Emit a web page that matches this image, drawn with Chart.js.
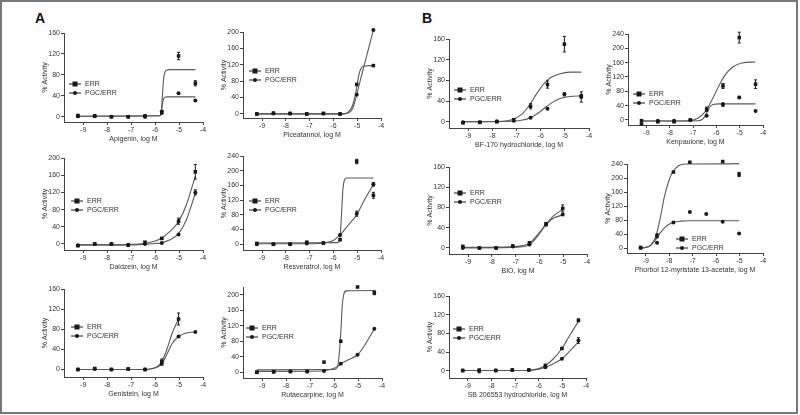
<!DOCTYPE html>
<html>
<head>
<meta charset="utf-8">
<script src="https://cdn.jsdelivr.net/npm/chart.js@4.4.1/dist/chart.umd.min.js"></script>
<style>
  html, body { margin: 0; padding: 0; background: #fff; }
  #fig { position: relative; width: 800px; height: 415px; overflow: hidden; font-family: "Liberation Sans", Arial, sans-serif; }
  #frame { position: absolute; left: 0; top: 0; width: 794px; height: 410px; border: 2px solid #777; }
  #fig canvas { position: absolute; }
  .tag { position: absolute; font: bold 14px "Liberation Sans", Arial, sans-serif; line-height: 1; color: #111; }
</style>
</head>
<body>
<div id="fig">
  <div id="frame"></div>
  <div class="tag" style="left:35px; top:11px">A</div>
  <div class="tag" style="left:422px; top:11px">B</div>
</div>
<script>
// log concentrations used for every compound
const logConc = [-9.22, -8.52, -7.82, -7.12, -6.42, -5.72, -5.02, -4.32];
const xTicks = [-9, -8, -7, -6, -5, -4];
const ticks160 = [0, 20, 40, 60, 80, 100, 120, 140, 160];
const ticks200 = [0, 20, 40, 60, 80, 100, 120, 140, 160, 180, 200];
const ticks220 = [0, 20, 40, 60, 80, 100, 120, 140, 160, 180, 200, 220];
const ticks240 = [0, 20, 40, 60, 80, 100, 120, 140, 160, 180, 200, 220, 240];

// Apigenin
const apigErr = [2, 2, 0, 0, 1, 8, 116, 64];
const apigErrSd = [3, 2, 1, 1, 3, 3, 7, 5];
const apigPgc = [1, 1, 0, 0, 0, 10, 45, 31];
const apigFitErr = [[-9.22, 1], [-5.8, 2], [-5.74, 8], [-5.7, 35], [-5.66, 65], [-5.6, 84], [-5.52, 89], [-5.4, 90], [-4.32, 90]];
const apigFitPgc = [[-9.22, 1], [-5.8, 2], [-5.74, 8], [-5.7, 22], [-5.66, 32], [-5.6, 37], [-5.5, 38], [-4.32, 38]];

// Piceatannol
const piceErr = [0, 2, 1, 0, 1, 0, 72, 118];
const picePgc = [0, 1, 1, 0, 1, 0, 47, 205];
const piceFitErr = [[-9.22, 0], [-5.6, 0], [-5.4, 3], [-5.2, 20], [-5.05, 55], [-4.95, 90], [-4.85, 110], [-4.7, 117], [-4.5, 118], [-4.32, 118]];
const piceFitPgc = [[-9.22, 0], [-5.6, 0], [-5.4, 2], [-5.2, 12], [-5.05, 40], [-4.9, 75], [-4.7, 120], [-4.5, 165], [-4.32, 205]];

// Daidzein
const daidErr = [-4, 0, 0, -3, 4, 13, 53, 168];
const daidErrSd = [2, 1, 1, 2, 2, 2, 7, 17];
const daidPgc = [-3, 0, 0, -2, 0, 2, 22, 120];
const daidPgcSd = [0, 0, 0, 0, 0, 0, 2, 6];
const daidFitErr = [[-9.22, -2], [-7.5, -2], [-7, -1], [-6.5, 1], [-6.0, 7], [-5.72, 14], [-5.4, 28], [-5.02, 52], [-4.7, 90], [-4.32, 158]];
const daidFitPgc = [[-9.22, -2], [-7, -2], [-6.5, -1], [-6.0, 1], [-5.72, 3], [-5.4, 9], [-5.02, 24], [-4.7, 55], [-4.32, 118]];

// Resveratrol
const resvErr = [2, 0, 0, 5, 3, 12, 225, 133];
const resvErrSd = [2, 1, 1, 3, 1, 2, 6, 8];
const resvPgc = [0, 0, 0, 2, 3, 25, 83, 163];
const resvPgcSd = [0, 0, 0, 0, 0, 2, 7, 5];
const resvFitErr = [[-9.22, 3], [-5.85, 4], [-5.78, 5], [-5.72, 20], [-5.66, 80], [-5.6, 150], [-5.54, 174], [-5.45, 180], [-4.32, 180]];
const resvFitPgc = [[-9.22, 1], [-7, 1], [-6.42, 3], [-6.0, 10], [-5.72, 25], [-5.4, 50], [-5.02, 80], [-4.7, 120], [-4.32, 162]];

// Genistein
const geniErr = [-1, 1, -1, 0, -1, 15, 100, null];
const geniErrSd = [1, 2, 1, 1, 1, 5, 12, 0];
const geniPgc = [-1, 0, -1, 0, -1, 10, 65, 74];
const geniFitErr = [[-9.22, -1], [-6.4, -1], [-6.1, 1], [-5.9, 5], [-5.72, 15], [-5.5, 40], [-5.3, 70], [-5.02, 100]];
const geniFitPgc = [[-9.22, -1], [-6.4, -1], [-6.1, 1], [-5.9, 4], [-5.72, 10], [-5.5, 30], [-5.3, 50], [-5.02, 65], [-4.7, 72], [-4.32, 74]];

// Rutaecarpine
const rutaErr = [0, 1, 2, 2, 26, 80, 220, 205];
const rutaErrSd = [0, 0, 0, 0, 0, 0, 0, 5];
const rutaPgc = [0, 1, 2, 2, 3, 22, 45, 112];
const rutaFitErr = [[-9.22, 6], [-6.0, 7], [-5.85, 15], [-5.78, 50], [-5.72, 100], [-5.66, 170], [-5.6, 200], [-5.5, 210], [-4.32, 211]];
const rutaFitPgc = [[-9.22, 2], [-6.5, 3], [-6.1, 8], [-5.85, 15], [-5.72, 22], [-5.4, 32], [-5.02, 45], [-4.7, 72], [-4.32, 112]];

// BF-170 hydrochloride
const bf170Err = [-2, -1, 0, 4, 30, 72, 150, 48];
const bf170ErrSd = [1, 1, 1, 2, 5, 7, 15, 10];
const bf170Pgc = [-1, -1, 1, 2, 8, 25, 53, 50];
const bf170PgcSd = [0, 0, 0, 0, 0, 0, 3, 3];
const bf170FitErr = [[-9.22, 0], [-7.6, 1], [-7.2, 4], [-6.8, 14], [-6.5, 30], [-6.2, 52], [-5.9, 72], [-5.6, 85], [-5.2, 93], [-4.8, 96], [-4.32, 96]];
const bf170FitPgc = [[-9.22, 0], [-7.2, 1], [-6.8, 3], [-6.42, 8], [-6.1, 17], [-5.8, 28], [-5.5, 38], [-5.2, 45], [-4.8, 49], [-4.32, 50]];

// Kenpaulone
const kenpErr = [-2, -5, -5, 0, 30, 95, 230, 100];
const kenpErrSd = [1, 1, 1, 1, 6, 7, 15, 12];
const kenpPgc = [-11, -2, -2, 0, 12, 43, 63, 25];
const kenpPgcSd = [0, 0, 0, 0, 0, 5, 3, 0];
const kenpFitErr = [[-9.22, -3], [-7.2, -2], [-6.8, 5], [-6.5, 22], [-6.2, 55], [-5.9, 95], [-5.6, 128], [-5.3, 148], [-4.9, 159], [-4.32, 162]];
const kenpFitPgc = [[-9.22, -3], [-6.8, -2], [-6.6, 2], [-6.45, 15], [-6.3, 35], [-6.15, 43], [-5.9, 45], [-4.32, 45]];

// BIO
const bioErr = [3, 0, 0, 4, 10, 48, 78, null];
const bioErrSd = [2, 0, 0, 0, 2, 2, 7, 0];
const bioPgc = [0, 0, 0, 3, 7, 46, 66, null];
const bioFitErr = [[-9.22, 1], [-7.2, 2], [-6.8, 4], [-6.42, 9], [-6.1, 25], [-5.72, 47], [-5.4, 64], [-5.02, 76]];
const bioFitPgc = [[-9.22, 0], [-7.2, 1], [-6.8, 2], [-6.42, 6], [-6.1, 22], [-5.72, 46], [-5.4, 59], [-5.02, 65]];

// Phorbol 12-myristate 13-acetate
const pmaErr = [2, 35, 217, 245, null, 247, 210, null];
const pmaErrSd = [2, 6, 0, 0, 0, 3, 6, 0];
const pmaPgc = [0, 15, 73, 103, 97, 75, 42, null];
const pmaFitErr = [[-9.22, 0], [-9.0, 2], [-8.8, 8], [-8.57, 33], [-8.4, 80], [-8.2, 148], [-8.0, 195], [-7.85, 217], [-7.6, 235], [-7.3, 240], [-5.02, 241]];
const pmaFitPgc = [[-9.22, 0], [-9.0, 2], [-8.8, 7], [-8.57, 25], [-8.4, 42], [-8.2, 58], [-8.0, 68], [-7.85, 73], [-7.5, 77], [-7.2, 78], [-5.02, 78]];

// SB 206553 hydrochloride
const sbErr = [1, 2, 1, 2, 2, 12, 48, 108];
const sbErrSd = [0, 1, 0, 0, 0, 2, 2, 3];
const sbPgc = [1, -1, 1, 2, 2, 8, 26, 65];
const sbPgcSd = [0, 0, 0, 0, 0, 0, 0, 6];
const sbFitErr = [[-9.22, 1], [-6.5, 1], [-6.2, 3], [-6.0, 5], [-5.72, 12], [-5.4, 25], [-5.02, 48], [-4.7, 75], [-4.32, 106]];
const sbFitPgc = [[-9.22, 1], [-6.5, 1], [-6.2, 2], [-6.0, 4], [-5.72, 8], [-5.4, 15], [-5.02, 26], [-4.7, 42], [-4.32, 62]];

// panel layout: chart area box in page pixels (left, top, right, bottom), y range and legend offset
const panels = [
  { title: "Apigenin, log M", box: [64, 33, 203, 122], yMin: -10, yMax: 160, yTicks: ticks160, leg: [11, 51],
    err: apigErr, errSd: apigErrSd, pgc: apigPgc, pgcSd: null, fitErr: apigFitErr, fitPgc: apigFitPgc },
  { title: "Piceatannol, log M", box: [243, 32, 381, 118], yMin: -10, yMax: 200, yTicks: ticks200, leg: [12, 39],
    err: piceErr, errSd: null, pgc: picePgc, pgcSd: null, fitErr: piceFitErr, fitPgc: piceFitPgc },
  { title: "Daidzein, log M", box: [64, 158, 203, 250], yMin: -14, yMax: 200, yTicks: ticks200, leg: [13, 43],
    err: daidErr, errSd: daidErrSd, pgc: daidPgc, pgcSd: daidPgcSd, fitErr: daidFitErr, fitPgc: daidFitPgc },
  { title: "Resveratrol, log M", box: [243, 156, 381, 250], yMin: -16, yMax: 240, yTicks: ticks240, leg: [12, 45],
    err: resvErr, errSd: resvErrSd, pgc: resvPgc, pgcSd: resvPgcSd, fitErr: resvFitErr, fitPgc: resvFitPgc },
  { title: "Genistein, log M", box: [64, 289, 203, 377], yMin: -16, yMax: 160, yTicks: ticks160, leg: [13, 38],
    err: geniErr, errSd: geniErrSd, pgc: geniPgc, pgcSd: null, fitErr: geniFitErr, fitPgc: geniFitPgc },
  { title: "Rutaecarpine, log M", box: [243, 287, 382, 378], yMin: -15, yMax: 220, yTicks: ticks220, leg: [9, 41],
    err: rutaErr, errSd: rutaErrSd, pgc: rutaPgc, pgcSd: null, fitErr: rutaFitErr, fitPgc: rutaFitPgc },
  { title: "BF-170 hydrochloride, log M", box: [449, 39, 589, 128], yMin: -12, yMax: 160, yTicks: ticks160, leg: [11, 51],
    err: bf170Err, errSd: bf170ErrSd, pgc: bf170Pgc, pgcSd: bf170PgcSd, fitErr: bf170FitErr, fitPgc: bf170FitPgc },
  { title: "Kenpaulone, log M", box: [628, 34, 763, 125], yMin: -14, yMax: 240, yTicks: ticks240, leg: [11, 60],
    err: kenpErr, errSd: kenpErrSd, pgc: kenpPgc, pgcSd: kenpPgcSd, fitErr: kenpFitErr, fitPgc: kenpFitPgc },
  { title: "BIO, log M", box: [449, 167, 587, 254], yMin: -12, yMax: 160, yTicks: ticks160, leg: [11, 26],
    err: bioErr, errSd: bioErrSd, pgc: bioPgc, pgcSd: null, fitErr: bioFitErr, fitPgc: bioFitPgc },
  { title: "Phorbol 12-myristate 13-acetate, log M", box: [627, 164, 763, 253], yMin: -14, yMax: 240, yTicks: ticks240, leg: [55, 75],
    err: pmaErr, errSd: pmaErrSd, pgc: pmaPgc, pgcSd: null, fitErr: pmaFitErr, fitPgc: pmaFitPgc },
  { title: "SB 206553 hydrochloride, log M", box: [449, 296, 586, 378], yMin: -15, yMax: 160, yTicks: ticks160, leg: [10, 33],
    err: sbErr, errSd: sbErrSd, pgc: sbPgc, pgcSd: sbPgcSd, fitErr: sbFitErr, fitPgc: sbFitPgc }
];

const ink = "#1a1a1a";
const curveColor = "#5a5a5a";
const textColor = "#333";
const FONT = "'Liberation Sans', Arial, sans-serif";

Chart.defaults.font.family = FONT;
Chart.defaults.font.size = 7;
Chart.defaults.color = textColor;

function toPoints(vals, sd) {
  const out = [];
  vals.forEach((v, i) => {
    if (v === null) return;
    out.push({ x: logConc[i], y: v, e: sd ? sd[i] : 0 });
  });
  return out;
}

// vertical error bars with caps, from each point's e value
const errorBars = {
  id: "errorBars",
  afterDatasetsDraw(chart) {
    const ctx = chart.ctx;
    const ys = chart.scales.y;
    ctx.save();
    ctx.strokeStyle = ink;
    ctx.lineWidth = 1;
    chart.data.datasets.forEach((ds, di) => {
      if (!ds.bars) return;
      const meta = chart.getDatasetMeta(di);
      ds.data.forEach((p, i) => {
        if (!p.e) return;
        const px = meta.data[i].x;
        const y1 = ys.getPixelForValue(p.y - p.e);
        const y2 = ys.getPixelForValue(p.y + p.e);
        ctx.beginPath();
        ctx.moveTo(px, y1); ctx.lineTo(px, y2);
        ctx.moveTo(px - 1.5, y1); ctx.lineTo(px + 1.5, y1);
        ctx.moveTo(px - 1.5, y2); ctx.lineTo(px + 1.5, y2);
        ctx.stroke();
      });
    });
    ctx.restore();
  }
};

// small in-plot legend: line + marker + label
const pairLegend = {
  id: "pairLegend",
  afterDraw(chart, args, opts) {
    const ctx = chart.ctx;
    const a = chart.chartArea;
    const x0 = a.left + opts.x;
    const entries = [["ERR", "rect"], ["PGC/ERR", "circle"]];
    ctx.save();
    entries.forEach((en, i) => {
      const y = a.top + opts.y + i * 9;
      ctx.strokeStyle = ink;
      ctx.fillStyle = ink;
      ctx.lineWidth = 1;
      ctx.beginPath();
      ctx.moveTo(x0 - 6, y); ctx.lineTo(x0 + 6, y);
      ctx.stroke();
      if (en[1] === "rect") ctx.fillRect(x0 - 2.5, y - 2.5, 5, 5);
      else { ctx.beginPath(); ctx.arc(x0, y, 2, 0, Math.PI * 2); ctx.fill(); }
      ctx.fillStyle = textColor;
      ctx.font = "7px " + FONT;
      ctx.textBaseline = "middle";
      ctx.fillText(en[0], x0 + 10, y + 0.5);
    });
    ctx.restore();
  }
};

const fig = document.getElementById("fig");
const Y_W = 23, X_H = 21, PAD_T = 6, PAD_R = 10;

panels.forEach(p => {
  const [l, t, r, b] = p.box;
  const cv = document.createElement("canvas");
  const left = l - Y_W, top = t - PAD_T;
  const w = r + PAD_R - left, h = b + X_H - top;
  cv.width = w; cv.height = h;
  cv.style.left = left + "px"; cv.style.top = top + "px";
  cv.style.width = w + "px"; cv.style.height = h + "px";
  fig.appendChild(cv);

  const fit = pts => pts.map(q => ({ x: q[0], y: q[1] }));

  new Chart(cv, {
    type: "scatter",
    data: {
      datasets: [
        { data: toPoints(p.err, p.errSd), bars: true, clip: false, pointStyle: "rect", pointRadius: 2.5, backgroundColor: ink, borderColor: ink, borderWidth: 0 },
        { data: toPoints(p.pgc, p.pgcSd), bars: true, clip: false, pointStyle: "circle", pointRadius: 2, backgroundColor: ink, borderColor: ink, borderWidth: 0 },
        { data: fit(p.fitErr), clip: false, showLine: true, pointRadius: 0, borderColor: curveColor, borderWidth: 1.1, cubicInterpolationMode: "monotone" },
        { data: fit(p.fitPgc), clip: false, showLine: true, pointRadius: 0, borderColor: curveColor, borderWidth: 1.1, cubicInterpolationMode: "monotone" }
      ]
    },
    options: {
      responsive: false,
      animation: false,
      events: [],
      layout: { padding: { left: 0, top: PAD_T, right: PAD_R, bottom: 0 } },
      plugins: {
        legend: { display: false },
        tooltip: { enabled: false },
        pairLegend: { x: p.leg[0], y: p.leg[1] }
      },
      scales: {
        x: {
          type: "linear", min: -9.8, max: -4,
          grid: { drawOnChartArea: false, tickLength: 3, color: "#444" },
          border: { color: "#444", width: 1 },
          ticks: { padding: 1, color: textColor, font: { size: 7 }, callback: v => String(v) },
          afterBuildTicks: s => { s.ticks = xTicks.map(v => ({ value: v })); },
          afterFit: s => { s.height = X_H; },
          title: { display: true, text: p.title, padding: 0, color: textColor, font: { size: 7 } }
        },
        y: {
          min: p.yMin, max: p.yMax,
          grid: { drawOnChartArea: false, tickLength: 3, color: "#444" },
          border: { color: "#444", width: 1 },
          ticks: { padding: 1, color: textColor, font: { size: 7 }, callback: v => String(v) },
          afterBuildTicks: s => { s.ticks = p.yTicks.map(v => ({ value: v })); },
          afterFit: s => { s.width = Y_W; },
          title: { display: true, text: "% Activity", padding: 0, color: textColor, font: { size: 7 } }
        }
      }
    },
    plugins: [errorBars, pairLegend]
  });
});
</script>
</body>
</html>
